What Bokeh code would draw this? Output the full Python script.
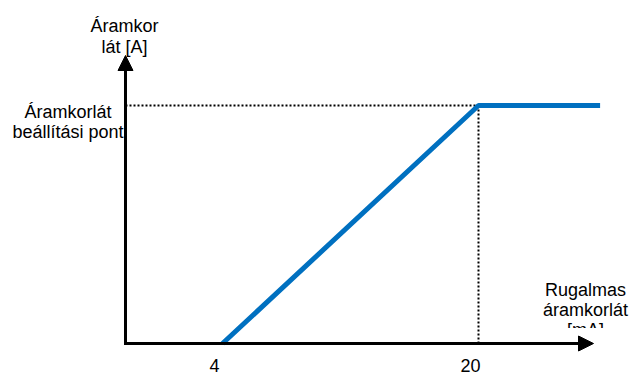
from bokeh.plotting import figure
from bokeh.models import Range1d, Arrow, NormalHead
from bokeh.core.properties import value
from bokeh.embed import file_html
from bokeh.resources import INLINE

# ---- data ----
line_x = [4, 20, 27.6]          # flexible current limit [mA]
line_y = [0, 1, 1]              # current limit (fraction of setpoint)
tick_values = [4, 20]
tick_labels = ["4", "20"]
y_title = ["Áramkor", "lát [A]"]
setpoint_label = ["Áramkorlát", "beállítási pont"]
x_title = ["Rugalmas", "áramkorlát", "[mA]"]

W, H = 632, 374
# pixel calibration of the schematic
X0_PX, X_SCALE = 158.0, 16.0      # px of x=0, px per mA
Y0_PX, Y_SCALE = 343.0, 238.0     # px of y=0, px per unit
TXT_SHIFT = 6.0                   # baseline correction for text rendering


def dx(px):
    return (px - X0_PX) / X_SCALE


def dy(py):
    return (Y0_PX - py) / Y_SCALE


def ty(py):
    return dy(py - TXT_SHIFT)


p = figure(width=W, height=H, output_backend="svg", toolbar_location=None,
           x_range=Range1d(dx(0), dx(W)), y_range=Range1d(dy(H), dy(0)),
           x_axis_type=None, y_axis_type=None, min_border=0,
           background_fill_color="white", border_fill_color="white",
           outline_line_color=None)
p.xgrid.visible = False
p.ygrid.visible = False

FONT = value("Liberation Sans")
FS = "18px"

axis_x = dx(125)

# dotted guides
p.line([axis_x, line_x[1]], [line_y[1], line_y[1]], line_color="black",
       line_width=2, line_dash="2 2")
p.line([line_x[1], line_x[1]], [line_y[1], 0], line_color="black",
       line_width=2, line_dash="2 2")

# main curve
p.line(line_x, line_y, line_color="#0070C0", line_width=5)

# y-axis title
p.text(x=[dx(124)] * 2, y=[ty(31), ty(52)], text=y_title, text_font=FONT,
       text_font_size=FS, text_align="center", text_baseline="alphabetic",
       text_color="black")

# setpoint label
p.text(x=[dx(67.5)] * 2, y=[ty(117), ty(137)], text=setpoint_label,
       text_font=FONT, text_font_size=FS, text_align="center",
       text_baseline="alphabetic", text_color="black")

# x-axis title
p.text(x=[dx(585)] * 3, y=[ty(295), ty(315), ty(335)], text=x_title,
       text_font=FONT, text_font_size=FS, text_align="center",
       text_baseline="alphabetic", text_color="black")
# clip the last line like the original text box
p.quad(left=[dx(540)], right=[dx(632)], top=[dy(327.5)], bottom=[dy(340.5)],
       fill_color="white", line_color=None)

# tick labels
p.text(x=tick_values, y=[ty(370.5)] * 2, text=tick_labels, x_offset=-8,
       text_font=FONT, text_font_size=FS, text_align="center",
       text_baseline="alphabetic", text_color="black")

# axes with arrow heads
p.add_layout(Arrow(end=NormalHead(size=15, fill_color="black", line_color="black"),
                   x_start=axis_x, y_start=dy(344.5), x_end=axis_x, y_end=dy(55),
                   line_color="black", line_width=3))
p.add_layout(Arrow(end=NormalHead(size=15, fill_color="black", line_color="black"),
                   x_start=dx(123.5), y_start=0, x_end=dx(593), y_end=0,
                   line_color="black", line_width=3))

open("out.html", "w").write(file_html(p, INLINE))
